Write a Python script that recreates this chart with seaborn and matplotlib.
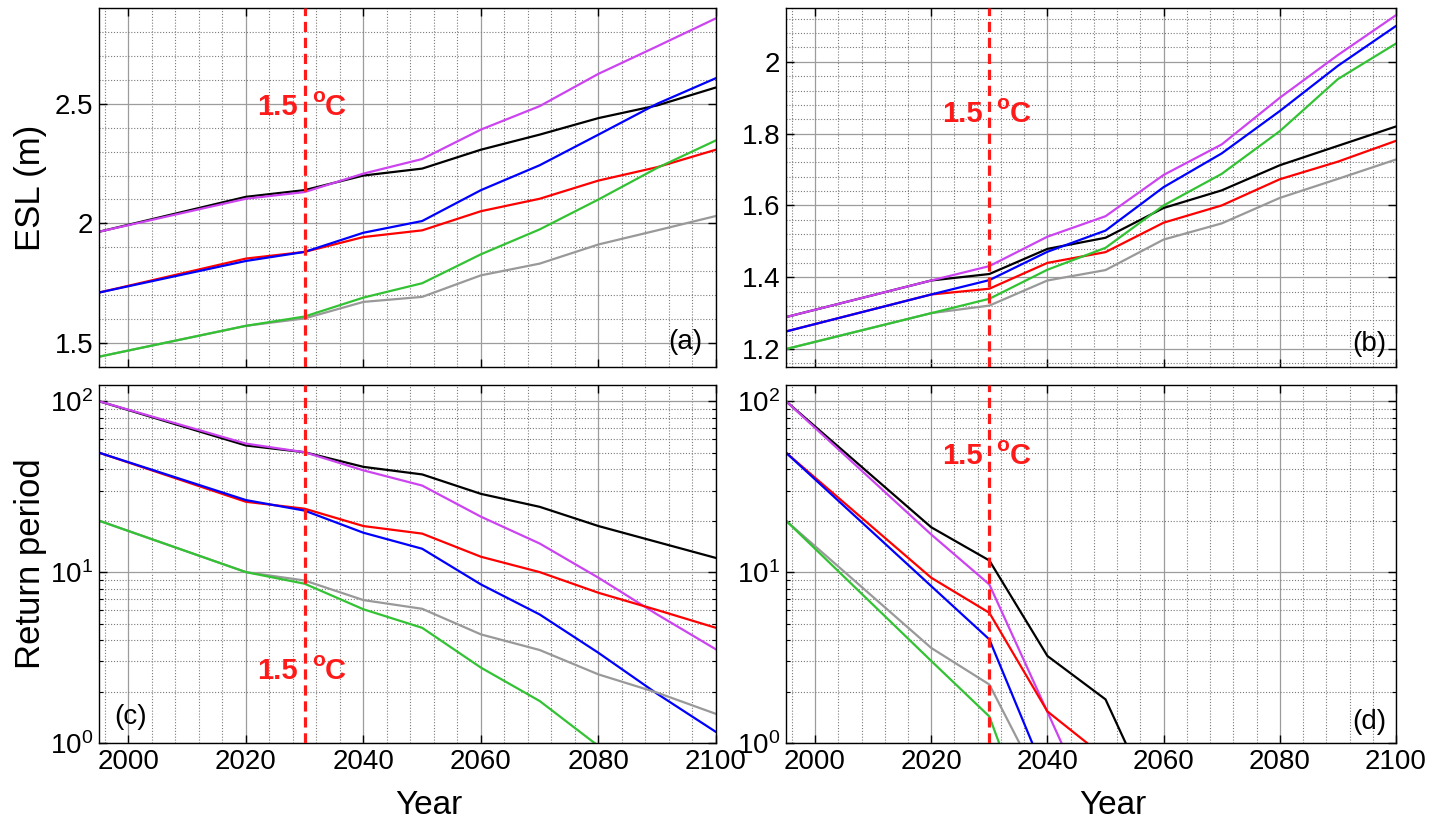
import numpy as np
import pandas as pd
import matplotlib
matplotlib.use("Agg")
import matplotlib.pyplot as plt
import seaborn as sns
from matplotlib.ticker import MultipleLocator, FixedLocator, LogLocator, NullFormatter, FixedFormatter

nan = np.nan
years = [1995, 2020, 2030, 2040, 2050, 2060, 2070, 2080, 2090, 2100]

# (a) ESL (m)
a_black   = [1.965, 2.111, 2.139, 2.200, 2.229, 2.308, 2.371, 2.440, 2.493, 2.568]
a_magenta = [1.965, 2.103, 2.131, 2.208, 2.269, 2.392, 2.490, 2.625, 2.740, 2.857]
a_red     = [1.711, 1.853, 1.881, 1.943, 1.971, 2.051, 2.103, 2.179, 2.235, 2.308]
a_blue    = [1.711, 1.843, 1.881, 1.961, 2.010, 2.139, 2.243, 2.371, 2.500, 2.607]
a_gray    = [1.443, 1.572, 1.603, 1.672, 1.693, 1.783, 1.832, 1.912, 1.971, 2.031]
a_green   = [1.443, 1.572, 1.611, 1.690, 1.750, 1.871, 1.975, 2.100, 2.232, 2.347]

# (b) ESL (m)
b_black   = [1.289, 1.391, 1.409, 1.479, 1.510, 1.593, 1.642, 1.712, 1.766, 1.820]
b_magenta = [1.289, 1.391, 1.431, 1.513, 1.570, 1.685, 1.770, 1.900, 2.019, 2.130]
b_red     = [1.249, 1.352, 1.368, 1.440, 1.470, 1.552, 1.600, 1.673, 1.722, 1.780]
b_blue    = [1.249, 1.352, 1.392, 1.471, 1.530, 1.651, 1.745, 1.863, 1.989, 2.100]
b_gray    = [1.200, 1.300, 1.321, 1.391, 1.420, 1.505, 1.550, 1.621, 1.674, 1.728]
b_green   = [1.200, 1.300, 1.340, 1.421, 1.482, 1.600, 1.688, 1.807, 1.952, 2.051]

# (c) Return period
c_black   = [100, 55.1, 50.3, 41.3, 37.3, 28.7, 24.1, 18.6, 15.0, 12.1]
c_magenta = [100, 56.5, 50.3, 39.4, 32.1, 21.1, 14.7, 9.27, 5.65, 3.53]
c_red     = [50, 25.8, 23.5, 18.6, 16.8, 12.3, 10.0, 7.57, 6.0, 4.72]
c_blue    = [50, 26.4, 22.9, 17.0, 13.7, 8.47, 5.65, 3.37, 1.94, 1.16]
c_gray    = [20, 10.0, 8.93, 6.86, 6.10, 4.32, 3.50, 2.52, 1.97, 1.48]
c_green   = [20, 10.0, 8.55, 6.06, 4.72, 2.76, 1.76, 0.96, nan, nan]

# (d) Return period
d_black   = [100, 18.3, 11.7, 3.23, 1.80, 0.33, nan, nan, nan, nan]
d_magenta = [100, 16.6, 8.47, 1.52, 0.27, nan, nan, nan, nan, nan]
d_red     = [50, 9.27, 5.78, 1.53, 0.82, nan, nan, nan, nan, nan]
d_blue    = [50, 8.28, 4.04, 0.61, nan, nan, nan, nan, nan, nan]
d_gray    = [20, 3.60, 2.20, 0.48, nan, nan, nan, nan, nan, nan]
d_green   = [20, 3.02, 1.43, 0.17, nan, nan, nan, nan, nan, nan]

series_names = ["black", "magenta", "red", "blue", "gray", "green"]
colors = {"black": "#000000", "magenta": "#CC44F0", "red": "#FF0000",
          "blue": "#0000FF", "gray": "#999999", "green": "#33C233"}

panels = {
    "a": [a_black, a_magenta, a_red, a_blue, a_gray, a_green],
    "b": [b_black, b_magenta, b_red, b_blue, b_gray, b_green],
    "c": [c_black, c_magenta, c_red, c_blue, c_gray, c_green],
    "d": [d_black, d_magenta, d_red, d_blue, d_gray, d_green],
}

sns.set_theme(style="white")
plt.rcParams["font.family"] = ["Liberation Sans", "DejaVu Sans"]
plt.rcParams["mathtext.fontset"] = "custom"
plt.rcParams["mathtext.rm"] = "Liberation Sans"
plt.rcParams["text.color"] = "black"
plt.rcParams["axes.labelcolor"] = "black"
plt.rcParams["xtick.color"] = "black"
plt.rcParams["ytick.color"] = "black"

W, H = 1429, 821
fig = plt.figure(figsize=(W / 100, H / 100), dpi=100)
fig.patch.set_facecolor("white")

def px_axes(l, t, r, b):
    return fig.add_axes([l / W, 1 - b / H, (r - l) / W, (b - t) / H])

ax_a = px_axes(99, 8, 716, 367)
ax_b = px_axes(786, 8, 1396, 367)
ax_c = px_axes(99, 385, 716, 743)
ax_d = px_axes(786, 385, 1396, 743)
axes = {"a": ax_a, "b": ax_b, "c": ax_c, "d": ax_d}

for key, ax in axes.items():
    logp = key in ("c", "d")
    if logp:
        ax.set_yscale("log")
    for name, vals in zip(series_names, panels[key]):
        df = pd.DataFrame({"Year": years, "v": vals}).dropna()
        sns.lineplot(data=df, x="Year", y="v", color=colors[name], lw=1.6,
                     ax=ax, estimator=None, sort=False, legend=False)
    ax.axvline(2030, color="#FF1A1A", lw=2.3, ls=(0, (3.2, 1.8)), zorder=5)
    ax.set_xlim(1995, 2100)
    ax.xaxis.set_major_locator(MultipleLocator(20))
    ax.xaxis.set_minor_locator(MultipleLocator(4))
    if logp:
        ax.set_ylim(1, 10 ** 2.095)
        ax.yaxis.set_major_locator(FixedLocator([1, 10, 100]))
        ax.yaxis.set_major_formatter(FixedFormatter([r"$\mathregular{10^{0}}$",
                                                     r"$\mathregular{10^{1}}$",
                                                     r"$\mathregular{10^{2}}$"]))
        ax.yaxis.set_minor_locator(LogLocator(base=10, subs=np.arange(2, 10), numticks=20))
        ax.yaxis.set_minor_formatter(NullFormatter())
    ax.set_axisbelow(True)
    ax.grid(which="major", color="#9c9c9c", lw=0.9, ls="-")
    ax.grid(which="minor", color="#7a7a7a", lw=0.8, ls=(0, (1, 1.6)))
    for s in ax.spines.values():
        s.set_color("black")
        s.set_linewidth(1.0)
    ax.tick_params(which="major", direction="in", length=6, width=1, color="black",
                   labelcolor="black", top=True, right=True, bottom=True, left=True,
                   labelsize=20, pad=4)
    ax.tick_params(axis="x", which="minor", length=0)
    ax.tick_params(axis="y", which="minor", direction="in", length=3 if logp else 0,
                   width=0.8, color="black", left=True, right=True)
    ax.set_xlabel("")
    ax.set_ylabel("")

ax_a.set_ylim(1.4, 2.9)
ax_a.yaxis.set_major_locator(FixedLocator([1.5, 2.0, 2.5]))
ax_a.yaxis.set_major_formatter(FixedFormatter(["1.5", "2", "2.5"]))
ax_a.yaxis.set_minor_locator(MultipleLocator(0.1))

ax_b.set_ylim(1.15, 2.15)
ax_b.yaxis.set_major_locator(FixedLocator([1.2, 1.4, 1.6, 1.8, 2.0]))
ax_b.yaxis.set_major_formatter(FixedFormatter(["1.2", "1.4", "1.6", "1.8", "2"]))
ax_b.yaxis.set_minor_locator(MultipleLocator(0.04))

for ax in (ax_a, ax_b):
    ax.tick_params(labelbottom=False)

ax_a.set_ylabel("ESL (m)", fontsize=25, color="black")
ax_a.yaxis.set_label_coords(-0.085, 0.5)
ax_c.set_ylabel("Return period", fontsize=25, color="black")
ax_c.yaxis.set_label_coords(-0.085, 0.5)
for ax in (ax_c, ax_d):
    ax.set_xlabel("Year", fontsize=24, color="black")
    ax.xaxis.set_label_coords(0.535, -0.13)

def mark(ax, y):
    kw = dict(xycoords="data", textcoords="offset pixels", color="#FF1A1A",
              fontweight="bold", zorder=6)
    ax.annotate("1.5", xy=(2030, y), xytext=(-7, -11.5), ha="right", va="baseline",
                fontsize=21, **kw)
    ax.annotate("o", xy=(2030, y), xytext=(7, 2), ha="left", va="baseline",
                fontsize=15, **kw)
    ax.annotate("C", xy=(2030, y), xytext=(20, -11.5), ha="left", va="baseline",
                fontsize=21, **kw)

mark(ax_a, 2.5)
mark(ax_b, 1.864)
mark(ax_c, 2.75)
mark(ax_d, 50)

ax_a.text(0.978, 0.07, "(a)", transform=ax_a.transAxes, ha="right", va="center", fontsize=20)
ax_b.text(0.985, 0.065, "(b)", transform=ax_b.transAxes, ha="right", va="center", fontsize=20)
ax_c.text(0.024, 0.073, "(c)", transform=ax_c.transAxes, ha="left", va="center", fontsize=20)
ax_d.text(0.985, 0.06, "(d)", transform=ax_d.transAxes, ha="right", va="center", fontsize=20)

fig.savefig("out.png", dpi=100, facecolor="white")
